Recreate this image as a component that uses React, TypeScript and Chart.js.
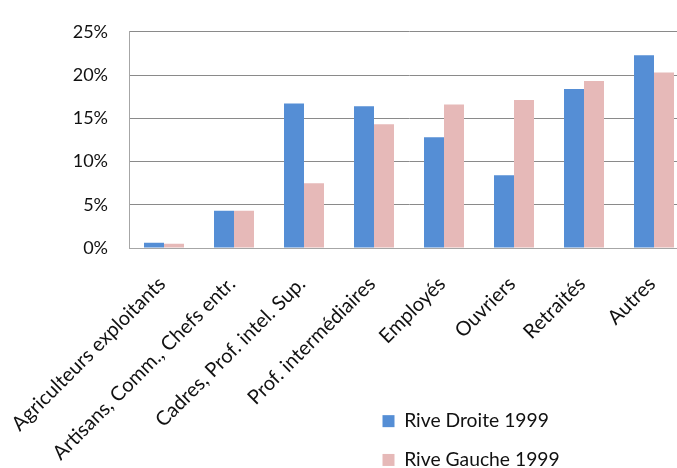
import { useEffect, useRef } from 'react';
import { Chart, registerables } from 'chart.js';

Chart.register(...registerables);

const categories = [
  'Agriculteurs exploitants',
  'Artisans, Comm., Chefs entr.',
  'Cadres, Prof. intel. Sup.',
  'Prof. intermédiaires',
  'Employés',
  'Ouvriers',
  'Retraités',
  'Autres',
];
const seriesNames = ['Rive Droite 1999', 'Rive Gauche 1999'];
const riveDroite1999 = [0.6, 4.3, 16.7, 16.4, 12.8, 8.4, 18.4, 22.3];
const riveGauche1999 = [0.5, 4.3, 7.5, 14.3, 16.6, 17.1, 19.3, 20.3];
const yTickMin = 0;
const yTickMax = 25;
const yTickStep = 5;

const FONT = 'Lato';

const legendPlacer = {
  id: 'legendPlacer',
  afterLayout(chart: any) {
    const lg = chart.legend;
    if (!lg) return;
    const left = 363;
    const top = 392;
    const w = 260;
    const h = 120;
    lg.left = left;
    lg.top = top;
    lg.right = left + w;
    lg.bottom = top + h;
    lg.width = w;
    lg.height = h;
  },
};

export default function App() {
  const canvasRef = useRef<HTMLCanvasElement | null>(null);

  useEffect(() => {
    if (!canvasRef.current) return;
    const chart = new Chart(canvasRef.current, {
      type: 'bar',
      data: {
        labels: categories,
        datasets: [
          {
            label: seriesNames[0],
            data: riveDroite1999,
            backgroundColor: '#558ed5',
            borderWidth: 0,
            categoryPercentage: 0.5714,
            barPercentage: 1,
          },
          {
            label: seriesNames[1],
            data: riveGauche1999,
            backgroundColor: '#e6b9b8',
            borderWidth: 0,
            categoryPercentage: 0.5714,
            barPercentage: 1,
          },
        ],
      },
      options: {
        responsive: false,
        animation: false,
        events: [],
        layout: { padding: { top: 23, right: 11, bottom: 0, left: 0 } },
        plugins: {
          tooltip: { enabled: false },
          title: { display: false },
          legend: {
            display: true,
            position: 'chartArea' as any,
            align: 'start',
            labels: {
              font: { family: FONT, size: 19.3 },
              color: '#111111',
              boxWidth: 12,
              boxHeight: 12,
              padding: 19.5,
            },
          },
        },
        scales: {
          x: {
            type: 'category',
            offset: true,
            grid: { display: false, drawTicks: false },
            border: { display: true, color: '#a6a6a6', width: 1 },
            ticks: {
              autoSkip: false,
              maxRotation: 45,
              minRotation: 45,
              padding: 24,
              labelOffset: -2,
              color: '#111111',
              font: { family: FONT, size: 20 },
            },
            afterFit: (scale: any) => {
              scale.height = 220;
              scale.paddingLeft = 0;
              scale.paddingRight = 0;
            },
          },
          y: {
            type: 'linear',
            min: yTickMin,
            max: yTickMax,
            grid: { color: '#8a8a8a', lineWidth: 1, drawTicks: false },
            border: { display: true, color: '#a6a6a6', width: 1 },
            ticks: {
              stepSize: yTickStep,
              padding: 21,
              color: '#111111',
              font: { family: FONT, size: 18 },
              callback: (v: any) => `${v}%`,
            },
            afterFit: (scale: any) => {
              scale.width = 129;
            },
          },
        },
      },
      plugins: [legendPlacer],
    });
    return () => chart.destroy();
  }, []);

  return (
    <div
      style={{
        position: 'fixed',
        left: 0,
        top: 0,
        width: 677,
        height: 468,
        overflow: 'hidden',
        background: '#ffffff',
      }}
    >
      <canvas ref={canvasRef} width={700} height={468} style={{ width: 700, height: 468, display: 'block' }} />
    </div>
  );
}
